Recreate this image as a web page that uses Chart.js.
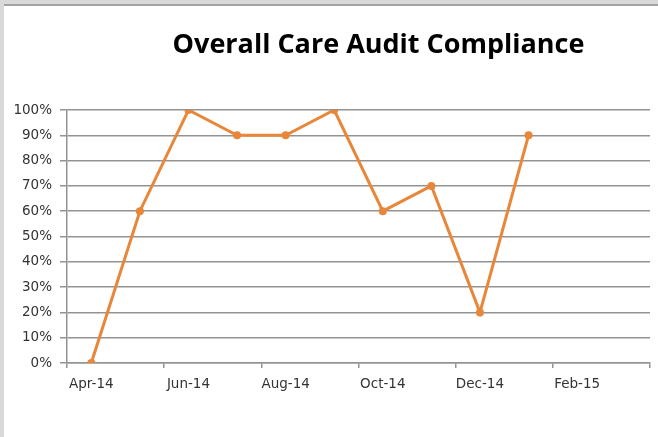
<!DOCTYPE html>
<html>
<head>
<meta charset="utf-8">
<script src="https://cdn.jsdelivr.net/npm/chart.js@4"></script>
<style>
    html, body { margin: 0; padding: 0; }
    body { width: 658px; height: 437px; background: #d9d9d9; position: relative; overflow: hidden; }
    #frame {
        position: absolute; left: 4px; top: 4px; width: 654px; height: 433px;
        background: #fff; border-top: 2px solid #a3a3a3; box-sizing: border-box;
    }
    #wrap { position: absolute; left: 0; top: 0; width: 654px; height: 431px; }
    #title {
        position: absolute; left: 0; top: 29px; width: 757px; text-align: center;
        font: bold 27px/27px 'Open Sans', sans-serif; color: #000; white-space: nowrap;
    }
</style>
</head>
<body>
<div id="frame">
    <div id="wrap"><canvas id="auditChart"></canvas></div>
</div>
<div id="title">Overall Care Audit Compliance</div>
<script>
// months on the axis (Apr-14 to Mar-15), only every other one gets a label
const months = ['Apr-14', 'May-14', 'Jun-14', 'Jul-14', 'Aug-14', 'Sep-14',
                'Oct-14', 'Nov-14', 'Dec-14', 'Jan-15', 'Feb-15', 'Mar-15'];
const compliance = [0, 60, 100, 90, 90, 100, 60, 70, 20, 90, null, null];
const yTicks = [0, 10, 20, 30, 40, 50, 60, 70, 80, 90, 100];

const gridGray = '#939393';
const orange = '#e8873a';
const labelFont = { family: 'DejaVu Sans', size: 13.5 };

const ctx = document.getElementById('auditChart').getContext('2d');
new Chart(ctx, {
    type: 'line',
    data: {
        labels: months,
        datasets: [{
            label: 'Compliance',
            data: compliance,
            borderColor: orange,
            backgroundColor: orange,
            borderWidth: 3,
            pointRadius: 4,
            pointHoverRadius: 4,
            pointBorderWidth: 0,
            tension: 0
        }]
    },
    options: {
        responsive: true,
        maintainAspectRatio: false,
        animation: false,
        layout: { padding: { top: 104, right: 8, bottom: 0, left: 0 } },
        plugins: {
            legend: { display: false },
            tooltip: { enabled: false },
            title: { display: false }
        },
        scales: {
            x: {
                offset: true,
                grid: {
                    offset: true,
                    drawOnChartArea: false,
                    drawTicks: true,
                    tickLength: 5,
                    lineWidth: 1.5,
                    tickColor: c => (c.index === undefined || c.index % 2 === 0) ? gridGray : 'rgba(0,0,0,0)'
                },
                border: { display: true, color: gridGray, width: 1.5 },
                ticks: {
                    autoSkip: false,
                    maxRotation: 0,
                    padding: 8,
                    color: '#333',
                    font: labelFont,
                    callback: function (value, index) {
                        return index % 2 === 0 ? this.getLabelForValue(value) : '';
                    }
                },
                afterFit: scale => { scale.height = 74; }
            },
            y: {
                min: yTicks[0],
                max: yTicks[yTicks.length - 1],
                afterBuildTicks: scale => { scale.ticks = yTicks.map(v => ({ value: v })); },
                grid: { color: gridGray, lineWidth: 1.5, tickLength: 7 },
                border: { display: true, color: gridGray, width: 1.5 },
                ticks: {
                    padding: 8,
                    color: '#333',
                    font: labelFont,
                    callback: v => v + '%'
                },
                afterFit: scale => { scale.width = 63; }
            }
        }
    }
});
</script>
</body>
</html>
